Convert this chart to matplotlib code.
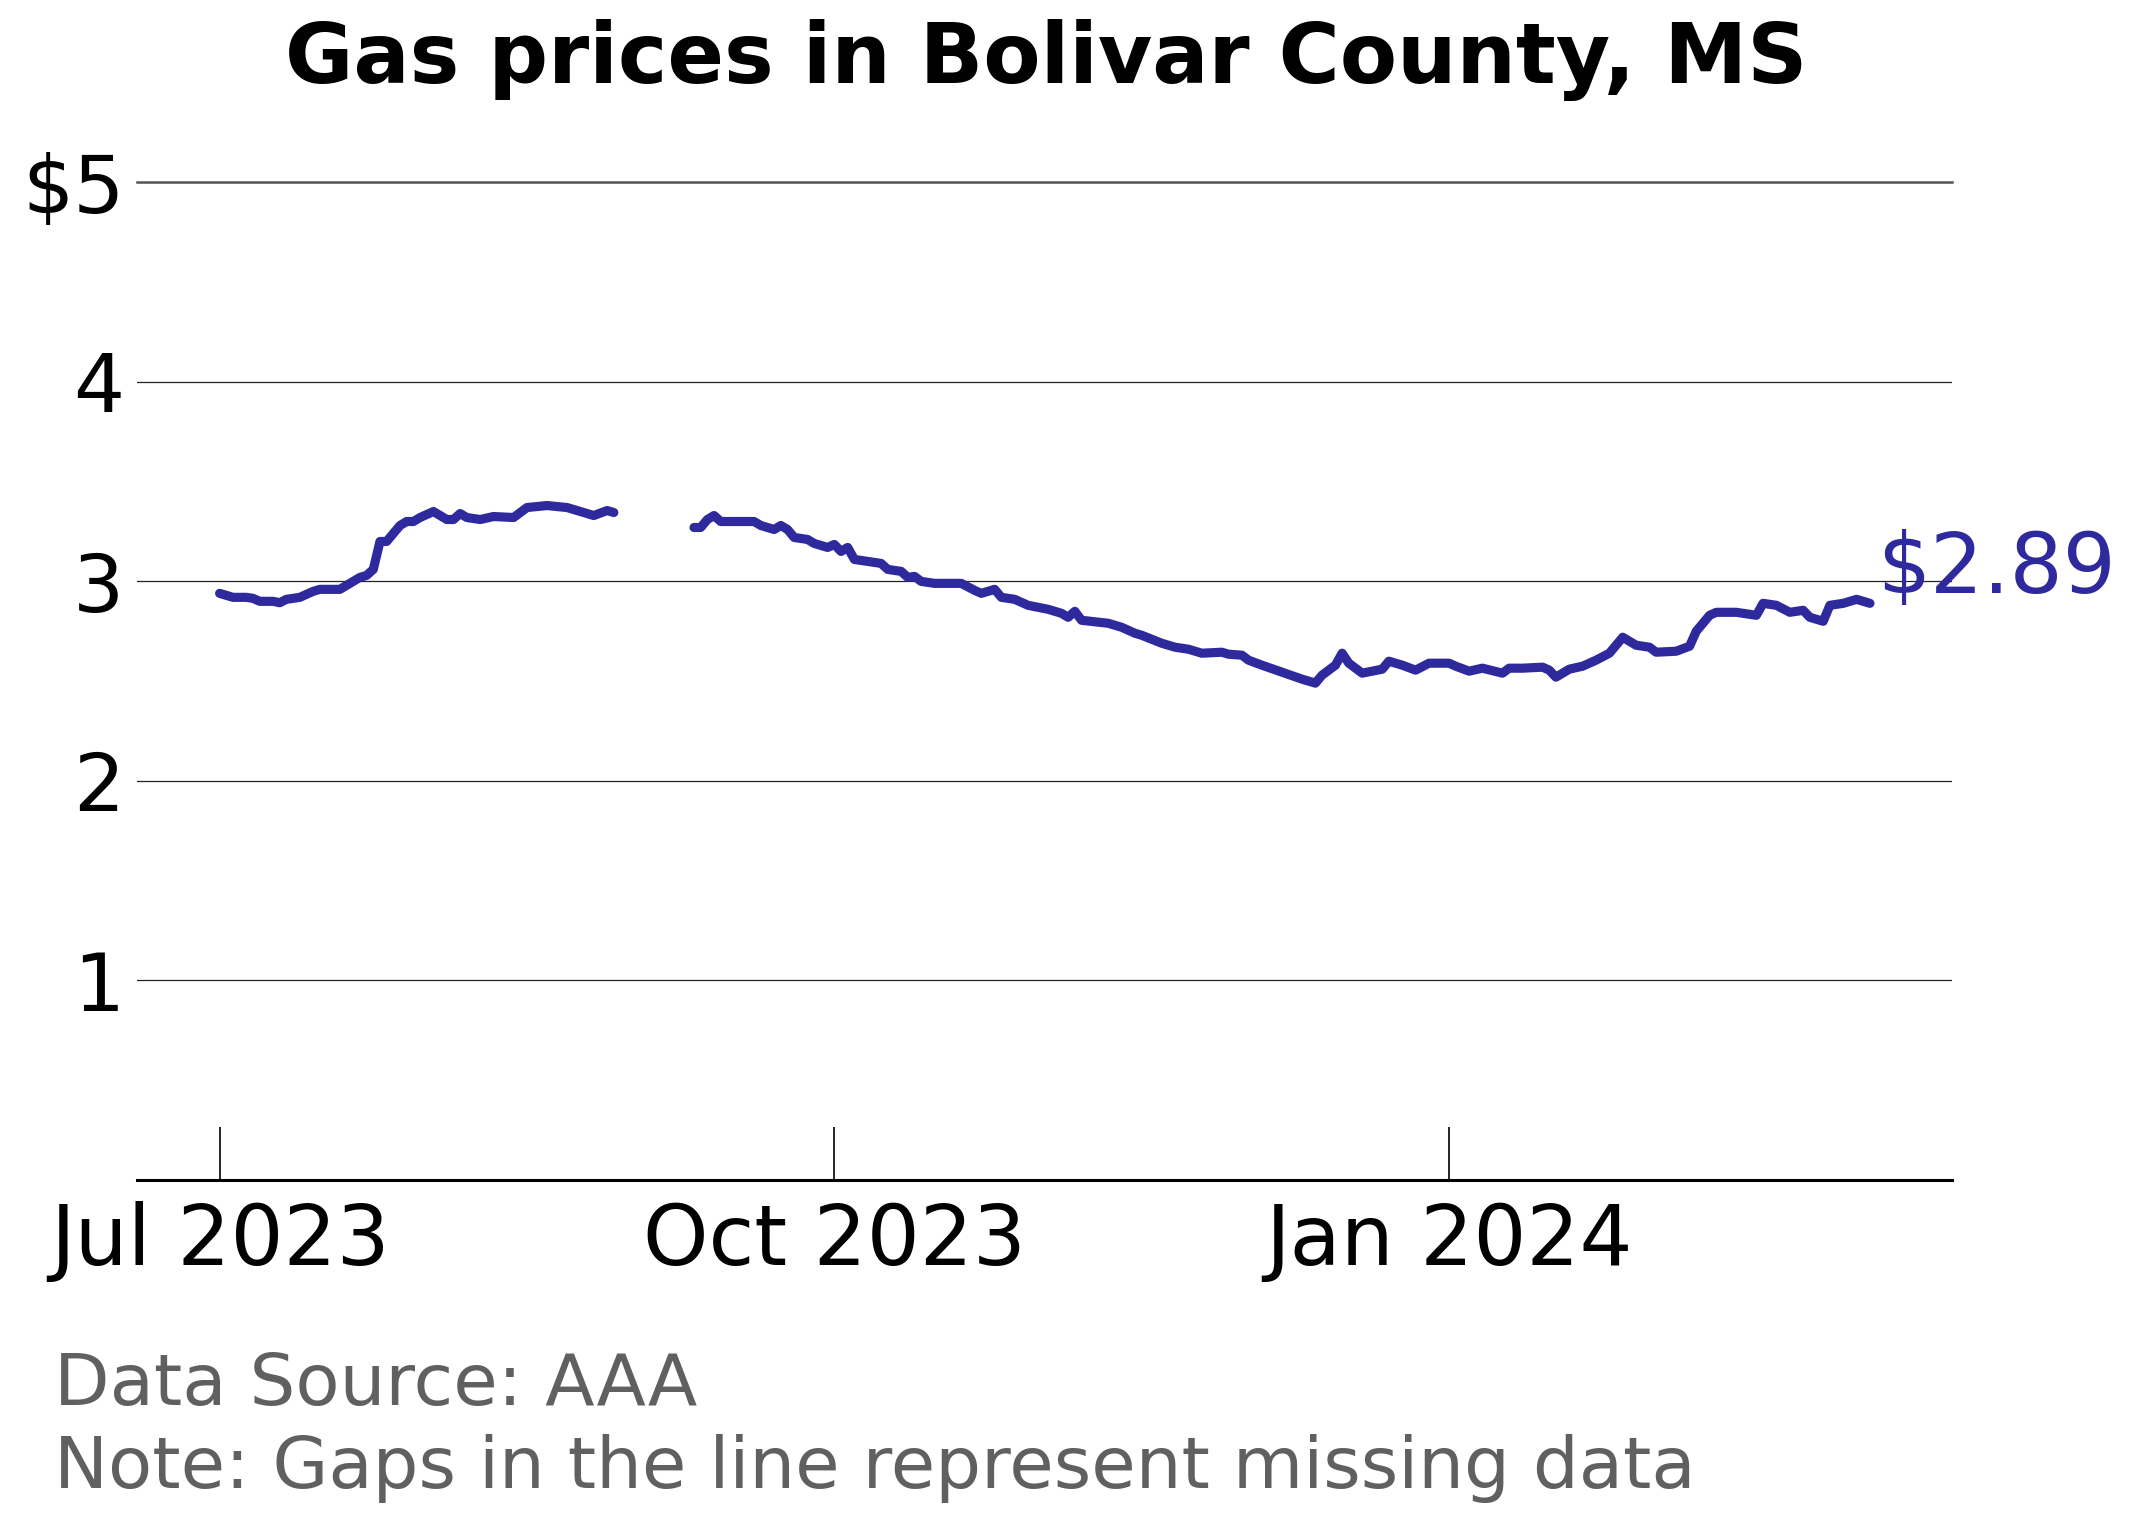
import numpy as np
import pandas as pd
import matplotlib
matplotlib.use("Agg")
import matplotlib.pyplot as plt
import matplotlib.dates as mdates

# gaps marked with NaN
dates = [
    "2023-07-01", "2023-07-03", "2023-07-05", "2023-07-06", "2023-07-07", "2023-07-09",
    "2023-07-10", "2023-07-11", "2023-07-13", "2023-07-15", "2023-07-16", "2023-07-19",
    "2023-07-20", "2023-07-22", "2023-07-23", "2023-07-24", "2023-07-25", "2023-07-26",
    "2023-07-28", "2023-07-29", "2023-07-30", "2023-07-31", "2023-08-02", "2023-08-04",
    "2023-08-05", "2023-08-06", "2023-08-07", "2023-08-09", "2023-08-11", "2023-08-14",
    "2023-08-16", "2023-08-19", "2023-08-22", "2023-08-25", "2023-08-26", "2023-08-28",
    "2023-08-29",
    "2023-09-04",
    "2023-09-10", "2023-09-11", "2023-09-12", "2023-09-13", "2023-09-14", "2023-09-17",
    "2023-09-19", "2023-09-20", "2023-09-22", "2023-09-23", "2023-09-24", "2023-09-25",
    "2023-09-27", "2023-09-28", "2023-09-30", "2023-10-01", "2023-10-02", "2023-10-03",
    "2023-10-04", "2023-10-06", "2023-10-08", "2023-10-09", "2023-10-11", "2023-10-12",
    "2023-10-13", "2023-10-14", "2023-10-16", "2023-10-18", "2023-10-20", "2023-10-22",
    "2023-10-23", "2023-10-25", "2023-10-26", "2023-10-28", "2023-10-30", "2023-11-02",
    "2023-11-04", "2023-11-05", "2023-11-06", "2023-11-07", "2023-11-11", "2023-11-13",
    "2023-11-15", "2023-11-16", "2023-11-19", "2023-11-20", "2023-11-21", "2023-11-23",
    "2023-11-25", "2023-11-28", "2023-11-29", "2023-12-01", "2023-12-02", "2023-12-04",
    "2023-12-07", "2023-12-10", "2023-12-12", "2023-12-13", "2023-12-15", "2023-12-16",
    "2023-12-17", "2023-12-19", "2023-12-22", "2023-12-23", "2023-12-25", "2023-12-27",
    "2023-12-29", "2024-01-01", "2024-01-02", "2024-01-04", "2024-01-06", "2024-01-09",
    "2024-01-10", "2024-01-12", "2024-01-15", "2024-01-16", "2024-01-17", "2024-01-19",
    "2024-01-21", "2024-01-23", "2024-01-25", "2024-01-27", "2024-01-29", "2024-01-31",
    "2024-02-01", "2024-02-04", "2024-02-06", "2024-02-07", "2024-02-09", "2024-02-10",
    "2024-02-13", "2024-02-16", "2024-02-17", "2024-02-19", "2024-02-21", "2024-02-23",
    "2024-02-24", "2024-02-26", "2024-02-27", "2024-02-29", "2024-03-02", "2024-03-03",
    "2024-03-04",
]
prices = [
    2.94, 2.92, 2.92, 2.915, 2.90, 2.90,
    2.893, 2.91, 2.92, 2.95, 2.96, 2.96,
    2.98, 3.02, 3.03, 3.06, 3.20, 3.20,
    3.28, 3.30, 3.30, 3.32, 3.35, 3.31,
    3.31, 3.34, 3.32, 3.31, 3.325, 3.32,
    3.37, 3.38, 3.37, 3.34, 3.33, 3.355,
    3.345,
    np.nan,
    3.27, 3.27, 3.31, 3.33, 3.30, 3.30,
    3.30, 3.28, 3.26, 3.28, 3.26, 3.22,
    3.21, 3.19, 3.17, 3.185, 3.15, 3.17,
    3.11, 3.10, 3.09, 3.06, 3.05, 3.02,
    3.025, 3.00, 2.99, 2.99, 2.99, 2.955,
    2.94, 2.96, 2.92, 2.91, 2.88, 2.86,
    2.84, 2.82, 2.85, 2.805, 2.79, 2.77,
    2.74, 2.73, 2.69, 2.68, 2.67, 2.66,
    2.64, 2.645, 2.635, 2.63, 2.605, 2.58,
    2.545, 2.51, 2.49, 2.53, 2.58, 2.64,
    2.59, 2.54, 2.56, 2.60, 2.58, 2.555,
    2.59, 2.59, 2.575, 2.55, 2.565, 2.54,
    2.565, 2.565, 2.57, 2.555, 2.52, 2.56,
    2.575, 2.605, 2.64, 2.72, 2.68, 2.67,
    2.645, 2.65, 2.675, 2.75, 2.83, 2.845,
    2.845, 2.83, 2.89, 2.88, 2.845, 2.855,
    2.82, 2.80, 2.88, 2.89, 2.91, 2.90,
    2.89,
]

yticks = [1, 2, 3, 4, 5]
ytick_labels = ["1", "2", "3", "4", "$5"]
xticks = ["2023-07-01", "2023-10-01", "2024-01-01"]

title = "Gas prices in Bolivar County, MS"
footer = ["Data Source: AAA", "Note: Gaps in the line represent missing data"]

line_color = "#2e2a9e"

df = pd.DataFrame({"date": pd.to_datetime(dates), "price": prices})

fig = plt.figure(figsize=(10.66, 7.62), dpi=200)
ax = fig.add_axes([0.0643, 0.2257, 0.9158 - 0.0643, 0.8804 - 0.2257])

ax.plot(df["date"], df["price"], color=line_color, lw=3.3, solid_capstyle="round",
        solid_joinstyle="round")

last = df.dropna().iloc[-1]
ax.annotate(f"${last['price']:.2f}", (last["date"], last["price"]),
            xytext=(2.5, 3.6), textcoords="offset points",
            va="baseline", ha="left", fontsize=30, color=line_color,
            annotation_clip=False)

ax.set_ylim(0, 5)
ax.set_yticks(yticks)
ax.set_yticklabels(ytick_labels)
ax.set_xticks(pd.to_datetime(xticks))
ax.xaxis.set_major_formatter(mdates.DateFormatter("%b %Y"))

ax.grid(axis="y", color="#222222", lw=0.45)
ax.set_axisbelow(True)
for s in ["left", "right"]:
    ax.spines[s].set_visible(False)
ax.spines["top"].set_color("#555555")
ax.spines["top"].set_linewidth(0.9)
ax.spines["bottom"].set_linewidth(1.1)

ax.tick_params(axis="y", length=0, pad=4.5, labelsize=29)
ax.tick_params(axis="x", direction="in", length=19, width=0.6, pad=7.5, labelsize=30)

fig.text(0.4905, 1 - 83 / 1524, title, ha="center", va="baseline",
         fontsize=30, fontweight="bold")
fig.text(0.0255, 1 - 1405 / 1524, footer[0], ha="left", va="baseline",
         fontsize=26, color="#606060")
fig.text(0.0255, 1 - 1488 / 1524, footer[1], ha="left", va="baseline",
         fontsize=26, color="#606060")

fig.savefig("out.png", dpi=200)
